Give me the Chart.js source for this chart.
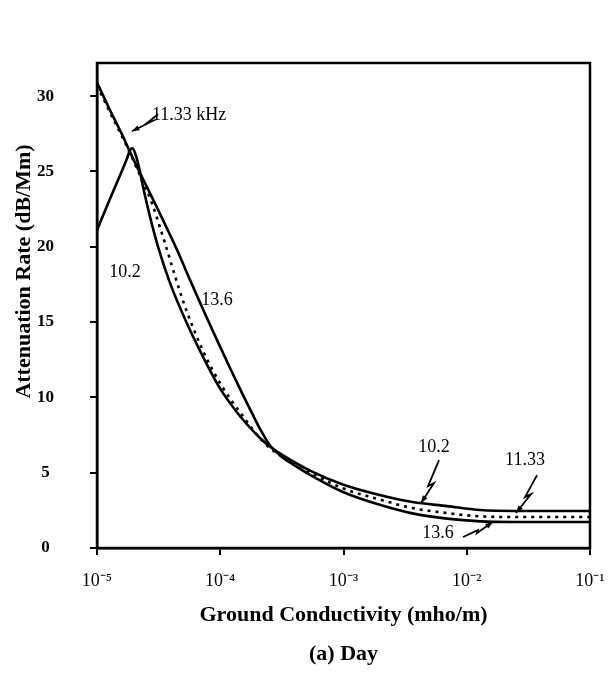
<!DOCTYPE html>
<html>
<head>
<meta charset="utf-8">
<script src="https://cdn.jsdelivr.net/npm/chart.js@4"></script>
<style>
  html, body { margin: 0; padding: 0; background: #fff; }
  #wrap { width: 614px; height: 674px; }
</style>
</head>
<body>
<div id="wrap"><canvas id="chart" width="614" height="674"></canvas></div>
<script>
// conductivity (mho/m) and attenuation rate (dB/Mm)
const cond102 = [1.00e-5, 1.27e-5, 1.585e-5, 1.75e-5, 1.84e-5, 1.93e-5, 2.04e-5, 2.19e-5, 2.36e-5, 2.69e-5, 3.13e-5, 3.91e-5, 5.37e-5, 7.24e-5, 9.95e-5, 1.37e-4, 1.74e-4, 2.10e-4, 2.51e-4, 3.16e-4, 5.62e-4, 1.00e-3, 2.00e-3, 3.63e-3, 6.92e-3, 1.29e-2, 2.40e-2, 1.0e-1];
const atten102 = [21.1, 23.15, 25.0, 25.85, 26.35, 26.55, 26.2, 25.3, 24.0, 22.0, 20.0, 17.6, 14.9, 12.7, 10.6, 9.0, 8.0, 7.3, 6.75, 6.2, 5.05, 4.2, 3.5, 3.05, 2.78, 2.52, 2.46, 2.46];

const cond1133 = [1.00e-5, 1.27e-5, 1.69e-5, 2.23e-5, 2.79e-5, 3.24e-5, 3.70e-5, 4.99e-5, 7.24e-5, 1.03e-4, 1.45e-4, 1.91e-4, 2.51e-4, 3.16e-4, 5.62e-4, 1.00e-3, 2.00e-3, 3.63e-3, 6.92e-3, 1.29e-2, 2.40e-2, 1.0e-1];
const atten1133 = [30.7, 28.95, 26.9, 24.75, 22.9, 21.3, 19.8, 16.4, 13.1, 10.75, 9.0, 7.7, 6.65, 6.08, 4.92, 3.95, 3.2, 2.65, 2.32, 2.1, 2.06, 2.06];

const cond136 = [1.00e-5, 1.27e-5, 1.63e-5, 1.85e-5, 2.36e-5, 3.07e-5, 3.91e-5, 4.54e-5, 5.68e-5, 7.24e-5, 9.06e-5, 1.20e-4, 1.53e-4, 1.81e-4, 2.09e-4, 2.51e-4, 3.16e-4, 3.98e-4, 5.62e-4, 1.00e-3, 2.00e-3, 3.63e-3, 6.92e-3, 1.29e-2, 2.40e-2, 1.0e-1];
const atten136 = [30.9, 29.1, 27.3, 26.3, 24.5, 22.6, 20.8, 19.65, 17.8, 15.85, 14.1, 11.95, 10.15, 8.95, 7.95, 6.85, 6.05, 5.5, 4.75, 3.7, 2.85, 2.3, 1.95, 1.77, 1.73, 1.73];

const xTicks = [1e-5, 1e-4, 1e-3, 1e-2, 1e-1];
const xTickLabels = ["10\u207B\u2075", "10\u207B\u2074", "10\u207B\u00B3", "10\u207B\u00B2", "10\u207B\u00B9"];
const yTicks = [0, 5, 10, 15, 20, 25, 30];

// curve labels, placed in data units
const curveLabels = [
  { text: "11.33 kHz", x: 2.79e-5, y: 28.75, align: "left" },
  { text: "10.2", x: 1.69e-5, y: 18.3, align: "center" },
  { text: "13.6", x: 9.4e-5, y: 16.45, align: "center" },
  { text: "10.2", x: 5.42e-3, y: 6.7, align: "center" },
  { text: "11.33", x: 2.97e-2, y: 5.85, align: "center" },
  { text: "13.6", x: 5.85e-3, y: 1.0, align: "center" }
];
// lightning-style pointer arrows, last point is the tip
const pointers = [
  [[3.13e-5, 28.8], [2.59e-5, 28.27], [2.79e-5, 28.33], [1.92e-5, 27.67]],
  [[5.96e-3, 5.84], [4.85e-3, 4.11], [5.42e-3, 4.31], [4.26e-3, 2.99]],
  [[3.72e-2, 4.84], [2.97e-2, 3.38], [3.32e-2, 3.58], [2.51e-2, 2.32]],
  [[9.33e-3, 0.73], [1.23e-2, 1.19], [1.21e-2, 0.995], [1.63e-2, 1.73]]
];

const serif = "'Liberation Serif', 'Times New Roman', serif";

function toPoints(xs, ys) {
  return xs.map((x, i) => ({ x: x, y: ys[i] }));
}

const framePlugin = {
  id: "frame",
  afterDraw(chart) {
    const { ctx, chartArea: a } = chart;
    ctx.save();
    ctx.strokeStyle = "#000";
    ctx.lineWidth = 2.5;
    ctx.strokeRect(a.left, a.top, a.right - a.left, a.bottom - a.top);
    ctx.restore();
  }
};

const labelPlugin = {
  id: "curveLabels",
  afterDatasetsDraw(chart) {
    const { ctx, scales: { x, y }, chartArea } = chart;
    ctx.save();
    ctx.fillStyle = "#000";
    ctx.strokeStyle = "#000";
    ctx.font = "18px " + serif;
    ctx.textBaseline = "middle";
    curveLabels.forEach(l => {
      ctx.textAlign = l.align;
      ctx.fillText(l.text, x.getPixelForValue(l.x), y.getPixelForValue(l.y));
    });

    ctx.lineWidth = 1.8;
    pointers.forEach(p => {
      const pts = p.map(q => [x.getPixelForValue(q[0]), y.getPixelForValue(q[1])]);
      ctx.beginPath();
      ctx.moveTo(pts[0][0], pts[0][1]);
      for (let i = 1; i < pts.length; i++) ctx.lineTo(pts[i][0], pts[i][1]);
      ctx.stroke();
      const [tx, ty] = pts[pts.length - 1];
      const [sx, sy] = pts[pts.length - 2];
      const ang = Math.atan2(ty - sy, tx - sx);
      ctx.beginPath();
      ctx.moveTo(tx, ty);
      ctx.lineTo(tx - 8 * Math.cos(ang - 0.35), ty - 8 * Math.sin(ang - 0.35));
      ctx.lineTo(tx - 8 * Math.cos(ang + 0.35), ty - 8 * Math.sin(ang + 0.35));
      ctx.closePath();
      ctx.fill();
    });

    // y axis title
    ctx.font = "bold 22px " + serif;
    ctx.textAlign = "center";
    ctx.translate(24, (chartArea.top + chartArea.bottom) / 2 - 34);
    ctx.rotate(-Math.PI / 2);
    ctx.fillText("Attenuation Rate (dB/Mm)", 0, 0);
    ctx.restore();
  }
};

const line = (data, dash) => ({
  data: data,
  borderColor: "#000",
  borderWidth: 2.6,
  borderDash: dash,
  pointRadius: 0,
  fill: false,
  cubicInterpolationMode: "monotone"
});

new Chart(document.getElementById("chart"), {
  type: "line",
  data: {
    datasets: [
      Object.assign(line(toPoints(cond102, atten102), []), { label: "10.2 kHz" }),
      Object.assign(line(toPoints(cond1133, atten1133), [3, 5]), { label: "11.33 kHz" }),
      Object.assign(line(toPoints(cond136, atten136), []), { label: "13.6 kHz" })
    ]
  },
  options: {
    responsive: false,
    animation: false,
    devicePixelRatio: 1,
    layout: { padding: { left: 0, right: 24, top: 63, bottom: 0 } },
    plugins: { legend: { display: false }, tooltip: { enabled: false } },
    scales: {
      x: {
        type: "logarithmic",
        min: 1e-5,
        max: 1e-1,
        afterBuildTicks: (scale) => { scale.ticks = xTicks.map(v => ({ value: v })); },
        afterFit: (scale) => {
          scale.height = 126;
          scale.paddingLeft = 0;
          scale.paddingRight = 0;
        },
        grid: { drawOnChartArea: false, drawTicks: true, tickLength: 7, color: "#000", lineWidth: 2 },
        border: { display: true, color: "#000", width: 2.5 },
        ticks: {
          color: "#000",
          padding: 15,
          maxRotation: 0,
          font: { family: serif, size: 18 },
          callback: (value, index) => xTickLabels[index]
        },
        title: {
          display: true,
          text: ["Ground Conductivity (mho/m)", "(a) Day"],
          color: "#000",
          padding: { top: 0, bottom: 0 },
          font: { family: serif, size: 22, weight: "bold", lineHeight: "39px" }
        }
      },
      y: {
        type: "linear",
        min: 0,
        max: 32.2,
        afterBuildTicks: (scale) => { scale.ticks = yTicks.map(v => ({ value: v })); },
        afterFit: (scale) => { scale.width = 97; },
        grid: { drawOnChartArea: false, drawTicks: true, tickLength: 7, color: "#000", lineWidth: 2 },
        border: { display: true, color: "#000", width: 2.5 },
        ticks: {
          color: "#000",
          padding: 36,
          crossAlign: "center",
          font: { family: serif, size: 17, weight: "bold" }
        }
      }
    }
  },
  plugins: [framePlugin, labelPlugin]
});
</script>
</body>
</html>
